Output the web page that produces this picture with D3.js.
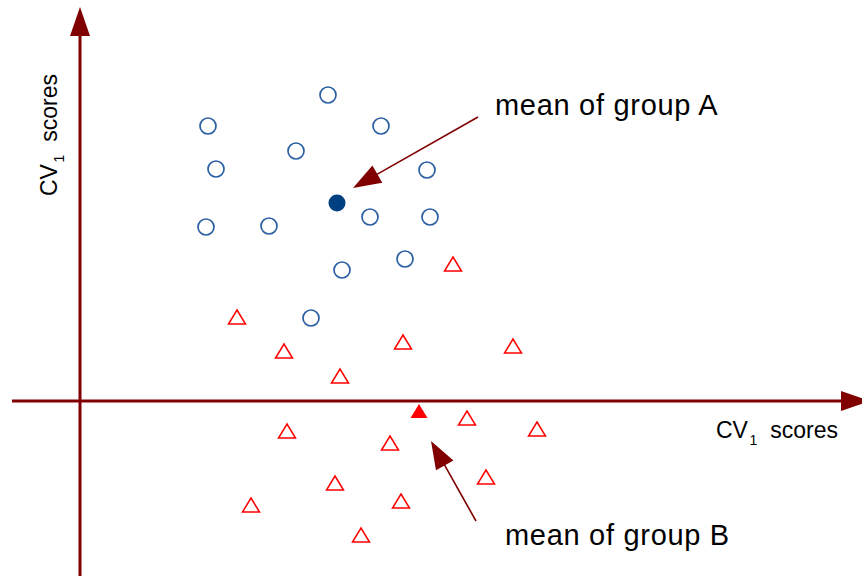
<!DOCTYPE html>
<html>
<head>
<meta charset="utf-8">
<script src="https://cdn.jsdelivr.net/npm/d3@7/dist/d3.min.js"></script>
<style>
  html, body { margin: 0; padding: 0; background: #fff; }
  svg { display: block; }
  text { font-family: "Liberation Sans", Arial, Helvetica, sans-serif; fill: #000; }
</style>
</head>
<body>
<svg id="chart" width="862" height="577"></svg>
<script>
// Canonical variate scores, group A (circles) and group B (triangles)
const groupA_x = [24.8, 12.8, 30.1, 21.6, 13.6, 34.7, 12.6, 18.9, 29.0, 35.0, 26.2, 32.5, 23.1];
const groupA_y = [30.6, 27.5, 27.5, 25.0, 23.2, 23.1, 17.4, 17.5, 18.4, 18.4, 13.1, 14.2, 8.3];
const groupB_x = [37.3, 15.7, 20.4, 32.3, 43.3, 26.0, 20.7, 31.0, 38.7, 45.7, 25.5, 40.6, 17.1, 32.1, 28.1];
const groupB_y = [13.7, 8.4, 5.0, 5.9, 5.5, 2.5, -3.0, -4.2, -1.7, -2.8, -8.2, -7.6, -10.4, -10.0, -13.4];

// Group means
const meanA = [25.7, 19.8];
const meanB = [33.9, -1.0];

// Axis extents (data units)
const xAxisExtent = [-6.8, 79.0];
const yAxisExtent = [-17.5, 39.4];

// Annotations: label anchor, arrow tail, arrow tip
const annotLabels = ["mean of group A", "mean of group B"];
const annotTextPos = [[41.5, 28.6], [42.5, -14.4]];
const annotTail = [[39.8, 28.4], [39.6, -12.0]];
const annotTip = [[27.3, 21.3], [35.1, -4.0]];

const axisTitleMain = "CV";
const axisTitleSub = "1";
const axisTitleRest = "scores";

const svg = d3.select("#chart");
const x = d3.scaleLinear().domain([0, 78]).range([80, 860]);
const y = d3.scaleLinear().domain([0, 39]).range([401, 11]);

const AXIS = "#800000";

// Line with a filled arrowhead at its end
function arrow(g, x1, y1, x2, y2, opts) {
  const dx = x2 - x1, dy = y2 - y1;
  const L = Math.hypot(dx, dy);
  const ux = dx / L, uy = dy / L;
  const bx = x2 - ux * opts.headLen, by = y2 - uy * opts.headLen;
  const hw = opts.headWidth / 2;
  g.append("line")
    .attr("x1", x1).attr("y1", y1).attr("x2", bx + ux * 2).attr("y2", by + uy * 2)
    .attr("stroke", opts.color).attr("stroke-width", opts.width);
  g.append("path")
    .attr("d", `M${x2},${y2}L${bx - uy * hw},${by + ux * hw}L${bx + uy * hw},${by - ux * hw}Z`)
    .attr("fill", opts.color);
}

// Axes
const axes = svg.append("g");
arrow(axes, x(xAxisExtent[0]), y(0), x(xAxisExtent[1]), y(0),
  { headLen: 29, headWidth: 20, color: AXIS, width: 3 });
arrow(axes, x(0), y(yAxisExtent[0]), x(0), y(yAxisExtent[1]),
  { headLen: 29, headWidth: 20, color: AXIS, width: 3 });

// Axis titles with subscript
function axisTitle(t) {
  t.append("tspan").text(axisTitleMain);
  t.append("tspan").attr("dx", 1.5).attr("dy", 7).attr("font-size", 14).text(axisTitleSub);
  t.append("tspan").attr("dx", 13).attr("dy", -7).text(axisTitleRest);
}
const xt = svg.append("text")
  .attr("x", 716).attr("y", 438)
  .attr("font-size", 23);
axisTitle(xt);

const yt = svg.append("text")
  .attr("transform", "translate(57,196) rotate(-90)")
  .attr("font-size", 23);
axisTitle(yt);

// Group A: open circles
svg.append("g").selectAll("circle")
  .data(d3.range(groupA_x.length))
  .join("circle")
  .attr("cx", i => x(groupA_x[i]))
  .attr("cy", i => y(groupA_y[i]))
  .attr("r", 8)
  .attr("fill", "none")
  .attr("stroke", "#2a5fa3")
  .attr("stroke-width", 1.7);

// Group B: open triangles (17 wide, 14 tall, centred on the point)
const triangle = {
  draw(ctx) {
    ctx.moveTo(0, -7);
    ctx.lineTo(8.5, 7);
    ctx.lineTo(-8.5, 7);
    ctx.closePath();
  }
};
const triPath = d3.symbol().type(triangle)();

svg.append("g").selectAll("path")
  .data(d3.range(groupB_x.length))
  .join("path")
  .attr("d", triPath)
  .attr("transform", i => `translate(${x(groupB_x[i])},${y(groupB_y[i])})`)
  .attr("fill", "none")
  .attr("stroke", "#ff0000")
  .attr("stroke-width", 1.5);

// Means
svg.append("circle")
  .attr("cx", x(meanA[0])).attr("cy", y(meanA[1]))
  .attr("r", 8.5).attr("fill", "#003f80");
svg.append("path")
  .attr("d", triPath)
  .attr("transform", `translate(${x(meanB[0])},${y(meanB[1])})`)
  .attr("fill", "#ff0000");

// Annotations
const ann = svg.append("g");
annotLabels.forEach((lab, i) => {
  arrow(ann, x(annotTail[i][0]), y(annotTail[i][1]), x(annotTip[i][0]), y(annotTip[i][1]),
    { headLen: 28, headWidth: 20, color: AXIS, width: 1.6 });
  ann.append("text")
    .attr("x", x(annotTextPos[i][0])).attr("y", y(annotTextPos[i][1]))
    .attr("font-size", 29)
    .attr("letter-spacing", 0.7)
    .text(lab);
});
</script>
</body>
</html>
